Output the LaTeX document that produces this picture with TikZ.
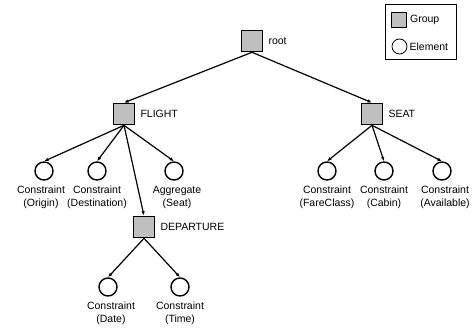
\documentclass[tikz,border=0pt]{standalone}
\usepackage{fontspec}
\setmainfont{Liberation Sans}
\usetikzlibrary{positioning,arrows.meta}

\tikzset{
    group/.style={draw, line width=1.6pt, fill=black!25, minimum size=21pt, inner sep=0pt},
    element/.style={draw, circle, line width=1.4pt, minimum size=18pt, inner sep=0pt},
    elabel/.style={align=center, inner sep=0pt},
    edge/.style={line width=1.2pt, -{Latex[length=4.5pt,width=3.5pt]}},
}

\begin{document}
\begin{tikzpicture}[x=1pt, y={(0pt,-1pt)}, every node/.style={font=\fontsize{10.5}{13}\selectfont}]
        \useasboundingbox (0,0) rectangle (473,329);
        % groups
        \node [group] (root) at (252,41) {};
        \node [group] (flight) at (124,114) {};
        \node [group] (seat) at (372,114) {};
        \node [group] (departure) at (144,227) {};
        \node [right=5pt of root, inner sep=0pt] (rootname) {root};
        \node [right=5pt of flight, inner sep=0pt] (flightname) {FLIGHT};
        \node [right=5pt of seat, inner sep=0pt] (seatname) {SEAT};
        \node [right=5pt of departure, inner sep=0pt] (departurename) {DEPARTURE};
        % elements
        \node [element] (origin) at (44,171) {};
        \node [element] (destination) at (97,171) {};
        \node [element] (aggregate) at (174,171) {};
        \node [element] (fareclass) at (327,171) {};
        \node [element] (cabin) at (384,171) {};
        \node [element] (available) at (442,171) {};
        \node [element] (date) at (108,287) {};
        \node [element] (time) at (180,287) {};
        \node [elabel, below=5pt of origin, xshift=-3pt] (originname) {Constraint\\(Origin)};
        \node [elabel, below=5pt of destination] (destinationname) {Constraint\\(Destination)};
        \node [elabel, below=5pt of aggregate, xshift=3pt] (aggregatename) {Aggregate\\(Seat)};
        \node [elabel, below=5pt of fareclass] (fareclassname) {Constraint\\(FareClass)};
        \node [elabel, below=5pt of cabin] (cabinname) {Constraint\\(Cabin)};
        \node [elabel, below=5pt of available, xshift=3pt] (availablename) {Constraint\\(Available)};
        \node [elabel, below=5pt of date, xshift=3pt] (datename) {Constraint\\(Date)};
        \node [elabel, below=5pt of time] (timename) {Constraint\\(Time)};
        % edges
        \draw [edge] (root.south) -- (flight.north);
        \draw [edge] (root.south) -- (seat.north);
        \foreach \e in {origin, destination, aggregate}
            \draw [edge] (flight.south) -- (\e.north);
        \draw [edge] (flight.south) -- (departure.north);
        \foreach \e in {fareclass, cabin, available}
            \draw [edge] (seat.south) -- (\e.north);
        \foreach \e in {date, time}
            \draw [edge] (departure.south) -- (\e.north);
        % legend
        \node [draw, line width=0.6pt, minimum width=71pt, minimum height=55pt] (legend) at (420.5,31.5) {};
        \node [group, line width=0.8pt, minimum size=15pt] (legendgroup) at (399,19.5) {};
        \node [element, line width=0.8pt, minimum size=15pt] (legendelement) at (399.5,46.5) {};
        \node [right=3pt of legendgroup, inner sep=0pt] (groupname) {Group};
        \node [right=2pt of legendelement, inner sep=0pt] (elementname) {Element};
\end{tikzpicture}
\end{document}
